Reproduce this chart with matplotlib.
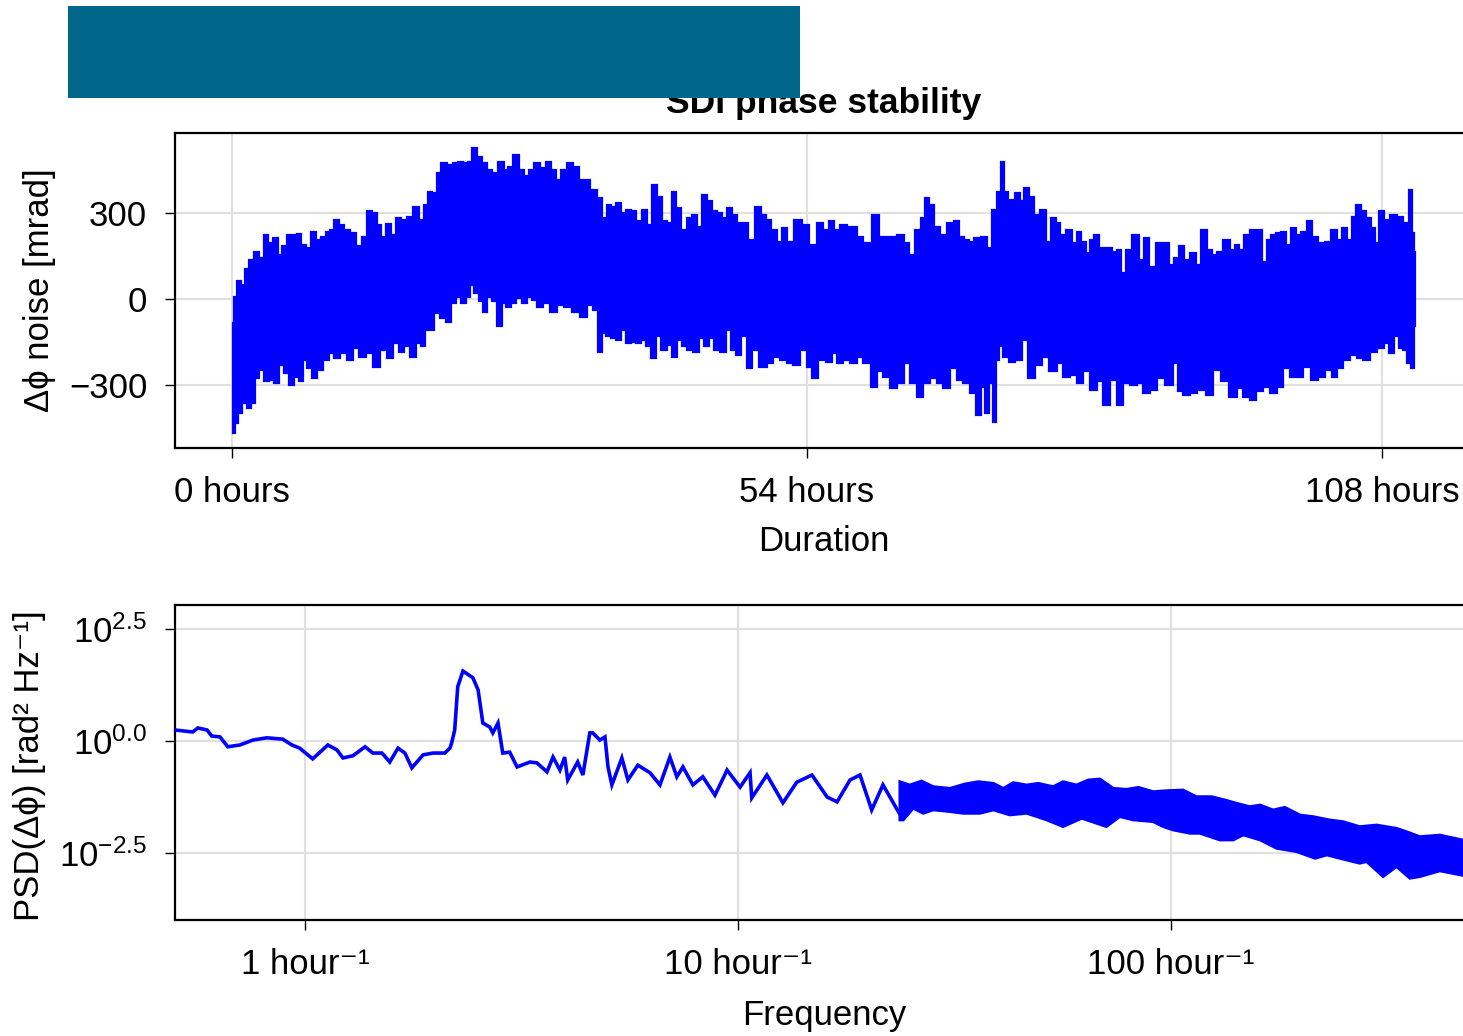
import numpy as np
import matplotlib
matplotlib.use("Agg")
import matplotlib.pyplot as plt
from matplotlib.patches import Rectangle
from matplotlib.ticker import FixedLocator, NullLocator

plt.rcParams['font.family'] = ['Liberation Sans', 'DejaVu Sans']
plt.rcParams['mathtext.fontset'] = 'custom'
plt.rcParams['mathtext.rm'] = 'Liberation Sans'
plt.rcParams['mathtext.it'] = 'Liberation Sans:italic'

# --- phase noise band edges (hours, mrad) ---
t_up = [0.13, 0.28, 0.66, 1.00, 1.44, 1.85, 2.38, 2.79, 3.26, 3.57, 4.13, 4.51, 4.98, 5.45, 5.92,
        6.32, 6.70, 7.17, 7.64, 8.11, 8.58, 9.05, 9.36, 9.83, 10.30, 10.77, 11.39, 11.96, 12.49,
        12.96, 13.43, 13.84, 14.21, 14.78, 15.15, 15.62, 16.09, 16.72, 17.35, 17.81, 18.22, 18.60,
        19.07, 19.47, 19.85, 20.48, 20.95, 21.42, 21.89, 22.36, 22.73, 23.29, 23.76, 24.23, 24.70,
        25.33, 25.80, 26.11, 26.74, 27.21, 27.68, 28.14, 28.61, 29.24, 29.71, 30.18, 30.64, 31.11,
        31.74, 32.37, 32.84, 33.31, 33.93,
        34.56, 35.03, 35.34, 35.81, 36.28, 36.75, 37.22, 37.69, 38.16, 38.79, 39.26, 39.73, 40.20,
        40.67, 41.13, 41.45, 41.92, 42.39, 43.01, 43.48, 43.95, 44.42, 44.89, 45.36, 45.83, 46.30,
        46.77, 47.24, 47.71, 48.18, 48.81, 49.43, 49.90, 50.37, 50.84, 51.47, 51.93, 52.40, 53.19,
        53.81, 54.60, 55.22, 55.85, 56.32, 56.79, 57.41, 58.04, 58.51, 58.98, 59.61, 60.55, 61.01,
        61.48, 62.11, 62.89, 63.36, 63.83, 64.46, 64.93, 65.24, 65.71, 66.18, 66.80, 67.59, 68.06,
        68.53, 69.00, 69.46, 69.93, 70.72, 71.19, 71.66,
        72.13, 72.38, 72.60, 73.22, 73.85, 74.16, 74.63, 75.10, 75.57, 76.19, 76.66, 77.13, 77.60,
        77.92, 78.70, 79.17, 79.48, 79.95, 80.42, 80.74, 81.21, 81.68, 82.46, 82.93, 83.33, 83.71,
        84.18, 84.96, 85.43, 85.90, 86.37, 87.15, 87.78, 88.25, 88.72, 89.19, 89.66, 90.28, 90.75,
        91.22, 91.85, 92.32, 92.79, 93.42, 94.04, 94.41, 94.82, 95.29, 95.92, 96.54, 97.01, 97.33,
        97.79, 98.26, 98.73, 99.20, 99.67, 100.14, 100.61, 101.24, 101.71, 102.33, 102.96, 103.43,
        104.06, 104.52, 104.99, 105.31, 105.84, 106.25, 106.72, 107.19, 107.50, 107.97, 108.44,
        109.07, 109.69, 110.32, 110.72, 110.94, 111.10]
noise_up = [-85, 8, 64, 49, 103, 136, 162, 142, 223, 194, 212, 153, 183, 223, 223,
            227, 188, 177, 235, 206, 217, 235, 241, 276, 258, 241, 229, 183, 217,
            305, 299, 258, 217, 260, 223, 281, 276, 287, 322, 276, 328, 374,
            369, 438, 473, 467, 473, 479, 473, 479, 526, 496, 473, 450, 438,
            479, 450, 461, 502, 450, 427, 450, 473, 456, 479, 450, 415, 450,
            473, 461, 415, 415, 380,
            351, 281, 328, 322, 334, 299, 310, 305, 270, 310, 258, 398, 357,
            270, 264, 374, 316, 241, 281, 293, 252, 363, 340, 305, 299, 281,
            316, 293, 264, 264, 206, 322, 293, 276, 241, 200, 247, 200, 276,
            258, 188, 264, 241, 270, 241, 258, 252, 252, 217, 194, 293, 217,
            217, 217, 223, 194, 153, 241, 281, 351, 328, 252, 223, 264, 270,
            217, 206, 200, 212, 217, 177, 310,
            374, 479, 374, 345, 369, 340, 386, 357, 293, 310, 200, 281, 264,
            223, 241, 194, 235, 200, 159, 206, 223, 177, 177, 165, 171, 90,
            171, 223, 136, 212, 113, 194, 194, 119, 142, 183, 136, 159, 119,
            241, 171, 153, 165, 206, 171, 188, 171, 223, 241, 241, 130, 206,
            223, 229, 235, 188, 247, 223, 235, 270, 217, 194, 200, 241,
            206, 247, 206, 287, 328, 305, 281, 247, 194, 305, 276,
            293, 287, 264, 380, 229, 164]
t_lo = [0.06, 0.44, 0.75, 1.13, 1.63, 2.00, 2.38, 2.79, 3.26, 3.73, 4.20, 4.67, 5.13, 5.60, 6.07,
        6.45, 6.85, 7.32, 7.79, 8.26, 8.89, 9.36, 9.83, 10.45, 11.08, 11.71, 12.18, 12.96, 13.59,
        14.21, 14.84, 15.47, 15.93, 16.40, 17.03, 17.50, 17.97, 18.28, 18.75, 19.22, 19.85, 20.32,
        20.79, 21.26, 21.73, 22.20, 22.51, 22.98, 23.45, 23.76, 24.23, 24.70, 25.17, 25.48, 25.95,
        26.42, 26.89, 27.52, 27.99, 28.46, 28.93, 29.55, 30.18, 30.81, 31.59, 32.37, 33.00, 33.63,
        34.25,
        34.56, 34.87, 35.34, 35.81, 36.28, 36.75, 37.22, 37.69, 38.16, 38.63, 39.10, 39.57, 40.04,
        40.51, 41.13, 41.60, 42.07, 42.54, 43.01, 43.64, 44.11, 44.58, 45.05, 45.52, 46.14, 46.61,
        47.08, 47.55, 48.02, 48.65, 49.12, 49.90, 50.53, 51.15, 51.78, 52.40, 53.03, 53.66, 54.28,
        54.75, 55.38, 56.16, 56.63, 57.10, 57.73, 58.35, 58.98, 59.61, 60.39, 60.86, 61.48, 62.11,
        62.89, 63.36, 63.99, 64.61, 65.24, 65.87, 66.49, 67.12, 67.74, 68.37, 69.00, 69.62, 70.09,
        70.56, 70.88, 71.35, 71.56, 71.97,
        72.13, 72.75, 73.22, 73.85, 74.47, 75.10, 75.73, 76.35, 77.13, 77.76, 78.39, 79.01, 79.64,
        80.26, 80.89, 81.52, 82.14, 82.77, 83.40, 84.02, 84.65, 85.27, 85.90, 86.53, 87.15, 88.09,
        88.72, 89.03, 89.66, 90.28, 91.07, 91.85, 92.47, 93.26, 94.04, 94.67, 95.29, 95.85, 96.54,
        97.17, 97.79, 98.42, 99.05, 99.67, 100.30, 100.93, 101.71, 102.33, 102.96, 103.59, 104.06,
        104.68, 105.31, 105.94, 106.56, 107.19, 107.97, 108.44, 108.91, 109.38, 109.85, 110.16,
        110.47, 110.94, 111.10]
noise_lo = [-469, -434, -399, -364, -381, -364, -277, -248, -288, -283, -294, -230, -259, -300, -271,
            -288, -213, -242, -277, -248, -213, -190, -207, -190, -213, -172, -201, -190, -236,
            -178, -207, -155, -184, -166, -201, -155, -166, -108, -108, -50, -67, -79,
            -15, 8, -15, 8, 49, 20, -9, -44, 8, -9, -96, -15, -27,
            -15, 2, -15, 8, -3, -27, -15, -44, -21, -27, -44, -62, -21,
            -38,
            -184, -120, -131, -137, -143, -108, -155, -149, -155, -143, -166, -207, -131,
            -178, -160, -201, -143, -166, -178, -184, -137, -166, -137, -178, -184, -108,
            -178, -195, -131, -242, -178, -236, -224, -201, -213, -224, -230, -178, -236,
            -277, -213, -219, -190, -224, -213, -224, -201, -224, -306, -253, -271, -312,
            -294, -224, -294, -341, -294, -277, -294, -312, -242, -283, -294, -329, -405,
            -306, -399, -294, -428, -213,
            -166, -201, -219, -213, -143, -277, -230, -201, -253, -224, -271, -265, -294,
            -253, -317, -288, -370, -283, -370, -294, -300, -294, -329, -317, -277, -300,
            -224, -323, -335, -329, -317, -335, -248, -288, -341, -312, -341, -352, -323,
            -306, -329, -306, -242, -271, -271, -236, -283, -271, -248, -271, -242,
            -213, -195, -207, -213, -184, -172, -155, -190, -131, -172, -178,
            -224, -242, -96]

# --- PSD: log10 of frequency (1/hour) and log10 of PSD ---
lf_line = [-0.300, -0.259, -0.247, -0.226, -0.215, -0.196, -0.178, -0.150, -0.120, -0.088,
           -0.051, -0.030, -0.012, 0.018, 0.035, 0.053, 0.074, 0.088, 0.111, 0.139,
           0.157, 0.178, 0.196, 0.215, 0.231, 0.247, 0.273, 0.296, 0.323, 0.335,
           0.339, 0.346, 0.353, 0.365, 0.388, 0.400, 0.411, 0.427, 0.434, 0.446,
           0.457, 0.473, 0.490, 0.520, 0.536, 0.559, 0.573, 0.589, 0.600, 0.607,
           0.630, 0.642, 0.658, 0.665, 0.681, 0.693, 0.700, 0.709, 0.732, 0.746,
           0.769, 0.797, 0.820, 0.843, 0.859, 0.873, 0.896, 0.919, 0.947, 0.975,
           1.005, 1.028, 1.032, 1.067, 1.104, 1.136, 1.171, 1.206, 1.229, 1.259,
           1.282, 1.309, 1.335, 1.379]
lp_line = [0.245, 0.20, 0.29, 0.245, 0.11, 0.09, -0.13, -0.09, 0.02, 0.07,
           0.04, -0.09, -0.16, -0.40, -0.25, -0.09, -0.20, -0.38, -0.33, -0.13,
           -0.27, -0.27, -0.47, -0.16, -0.27, -0.60, -0.31, -0.27, -0.27, -0.16,
           -0.04, 0.245, 1.21, 1.56, 1.41, 1.14, 0.40, 0.31, 0.18, 0.40,
           -0.27, -0.25, -0.58, -0.47, -0.49, -0.69, -0.36, -0.65, -0.36, -0.87,
           -0.47, -0.76, 0.18, 0.18, 0.02, 0.09, -0.58, -0.98, -0.38, -0.87,
           -0.54, -0.71, -0.98, -0.36, -0.80, -0.58, -0.98, -0.80, -1.21, -0.65,
           -1.03, -0.71, -1.27, -0.76, -1.38, -0.92, -0.76, -1.25, -1.36, -0.87,
           -0.76, -1.54, -0.98, -1.72]
lf_band_up = [1.374, 1.397, 1.424, 1.451, 1.490, 1.524, 1.555, 1.590, 1.613, 1.636,
              1.667, 1.694, 1.728, 1.751, 1.782, 1.809, 1.836, 1.867, 1.898, 1.925,
              1.959, 1.990, 2.028, 2.059, 2.094, 2.125, 2.152, 2.182, 2.206, 2.236,
              2.263, 2.298, 2.329, 2.367, 2.398, 2.436, 2.475, 2.521, 2.544, 2.575,
              2.621, 2.674]
lp_band_up = [-0.908, -0.982, -0.893, -1.019, -1.057, -0.960, -0.908, -0.945, -1.057, -0.930,
              -0.982, -0.945, -1.019, -0.908, -0.982, -0.871, -0.848, -1.057, -1.079, -1.034,
              -1.131, -1.109, -1.094, -1.243, -1.243, -1.317, -1.391, -1.466, -1.429, -1.540,
              -1.480, -1.652, -1.689, -1.763, -1.801, -1.912, -1.875, -1.949, -2.024, -2.135,
              -2.10, -2.21]
lf_band_lo = [1.374, 1.382, 1.405, 1.428, 1.451, 1.490, 1.520, 1.559, 1.590, 1.628,
              1.667, 1.713, 1.751, 1.794, 1.851, 1.882, 1.913, 1.959, 1.982, 2.005,
              2.044, 2.067, 2.113, 2.144, 2.167, 2.206, 2.244, 2.290, 2.333, 2.360,
              2.390, 2.436, 2.452, 2.490, 2.521, 2.552, 2.575, 2.621, 2.674]
lp_band_lo = [-1.763, -1.763, -1.503, -1.615, -1.540, -1.577, -1.615, -1.615, -1.540, -1.652,
              -1.615, -1.763, -1.912, -1.726, -1.912, -1.689, -1.763, -1.801, -1.912, -1.987,
              -2.061, -2.061, -2.210, -2.210, -2.098, -2.210, -2.396, -2.470, -2.619, -2.545,
              -2.619, -2.730, -2.693, -3.028, -2.805, -3.065, -3.028, -2.90, -3.00]


def steps(t, v):
    # mid-step outline so the band edges come out as vertical strokes
    t = np.asarray(t, float)
    v = np.asarray(v, float)
    m = (t[:-1] + t[1:]) / 2
    xs = np.concatenate([[t[0]], np.repeat(m, 2), [t[-1]]])
    return xs, np.repeat(v, 2)


FS = 25
fig = plt.figure(figsize=(14.63, 10.36), dpi=100)
ax1 = fig.add_axes([0.1196, 0.5676, 0.8872, 0.3041])
ax2 = fig.add_axes([0.1196, 0.1120, 0.8872, 0.3041])

# top: time series band
ux, uy = steps(t_up, noise_up)
lx, ly = steps(t_lo, noise_lo)
ax1.fill(np.concatenate([ux, lx[::-1]]), np.concatenate([uy, ly[::-1]]),
         facecolor='blue', edgecolor='blue', lw=1.6, zorder=3)
ax1.set_xlim(-5.35, 116.55)
ax1.set_ylim(-520, 579)
ax1.set_xticks([0, 54, 108])
ax1.set_xticklabels(['0 hours', '54 hours', '108 hours'])
ax1.set_yticks([-300, 0, 300])
ax1.set_yticklabels(['\u2212300', '0', '300'])
ax1.set_xlabel('Duration', fontsize=FS)
ax1.set_ylabel('\u0394\u03d5 noise [mrad]', fontsize=FS)
ax1.xaxis.set_label_coords(0.5, -0.245)
ax1.yaxis.set_label_coords(-0.092, 0.5)

# bottom: PSD
ax2.set_xscale('log')
ax2.set_yscale('log')
ax2.plot(10.0 ** np.array(lf_line), 10.0 ** np.array(lp_line), color='blue', lw=2.6,
         solid_joinstyle='miter', zorder=3)
bx = 10.0 ** np.concatenate([lf_band_up, lf_band_lo[::-1]])
by = 10.0 ** np.concatenate([lp_band_up, lp_band_lo[::-1]])
ax2.fill(bx, by, facecolor='blue', edgecolor='blue', lw=2.0, zorder=3)
ax2.set_xlim(10 ** -0.300, 10 ** 2.6975)
ax2.set_ylim(10 ** -3.995, 10 ** 3.036)
ax2.xaxis.set_major_locator(FixedLocator([1, 10, 100]))
ax2.xaxis.set_minor_locator(NullLocator())
ax2.set_xticklabels(['1 hour\u207b\u00b9', '10 hour\u207b\u00b9', '100 hour\u207b\u00b9'])
ax2.yaxis.set_major_locator(FixedLocator([10 ** -2.5, 1, 10 ** 2.5]))
ax2.yaxis.set_minor_locator(NullLocator())
ax2.set_yticklabels([r'$10^{-2.5}$', r'$10^{0.0}$', r'$10^{2.5}$'])
ax2.set_xlabel('Frequency', fontsize=FS)
ax2.set_ylabel('PSD(\u0394\u03d5) [rad\u00b2 Hz\u207b\u00b9]', fontsize=FS)
ax2.xaxis.set_label_coords(0.5, -0.25)
ax2.yaxis.set_label_coords(-0.099, 0.49)

for ax in (ax1, ax2):
    ax.grid(True, color='0.88', lw=1.5, zorder=0)
    ax.set_axisbelow(True)
    ax.tick_params(labelsize=FS, length=7, width=1, direction='out', pad=13)
    for s in ax.spines.values():
        s.set_linewidth(1.6)

fig.text(824 / 1463, 1 - 103 / 1036, 'SDI phase stability', fontsize=25.5,
         fontweight='bold', ha='center', va='center')

fig.patches.append(Rectangle((68 / 1463, 1 - 98 / 1036), 732 / 1463, 92 / 1036,
                             transform=fig.transFigure, facecolor='#00678a',
                             edgecolor='none', zorder=10))

fig.savefig('out.png', dpi=100)
